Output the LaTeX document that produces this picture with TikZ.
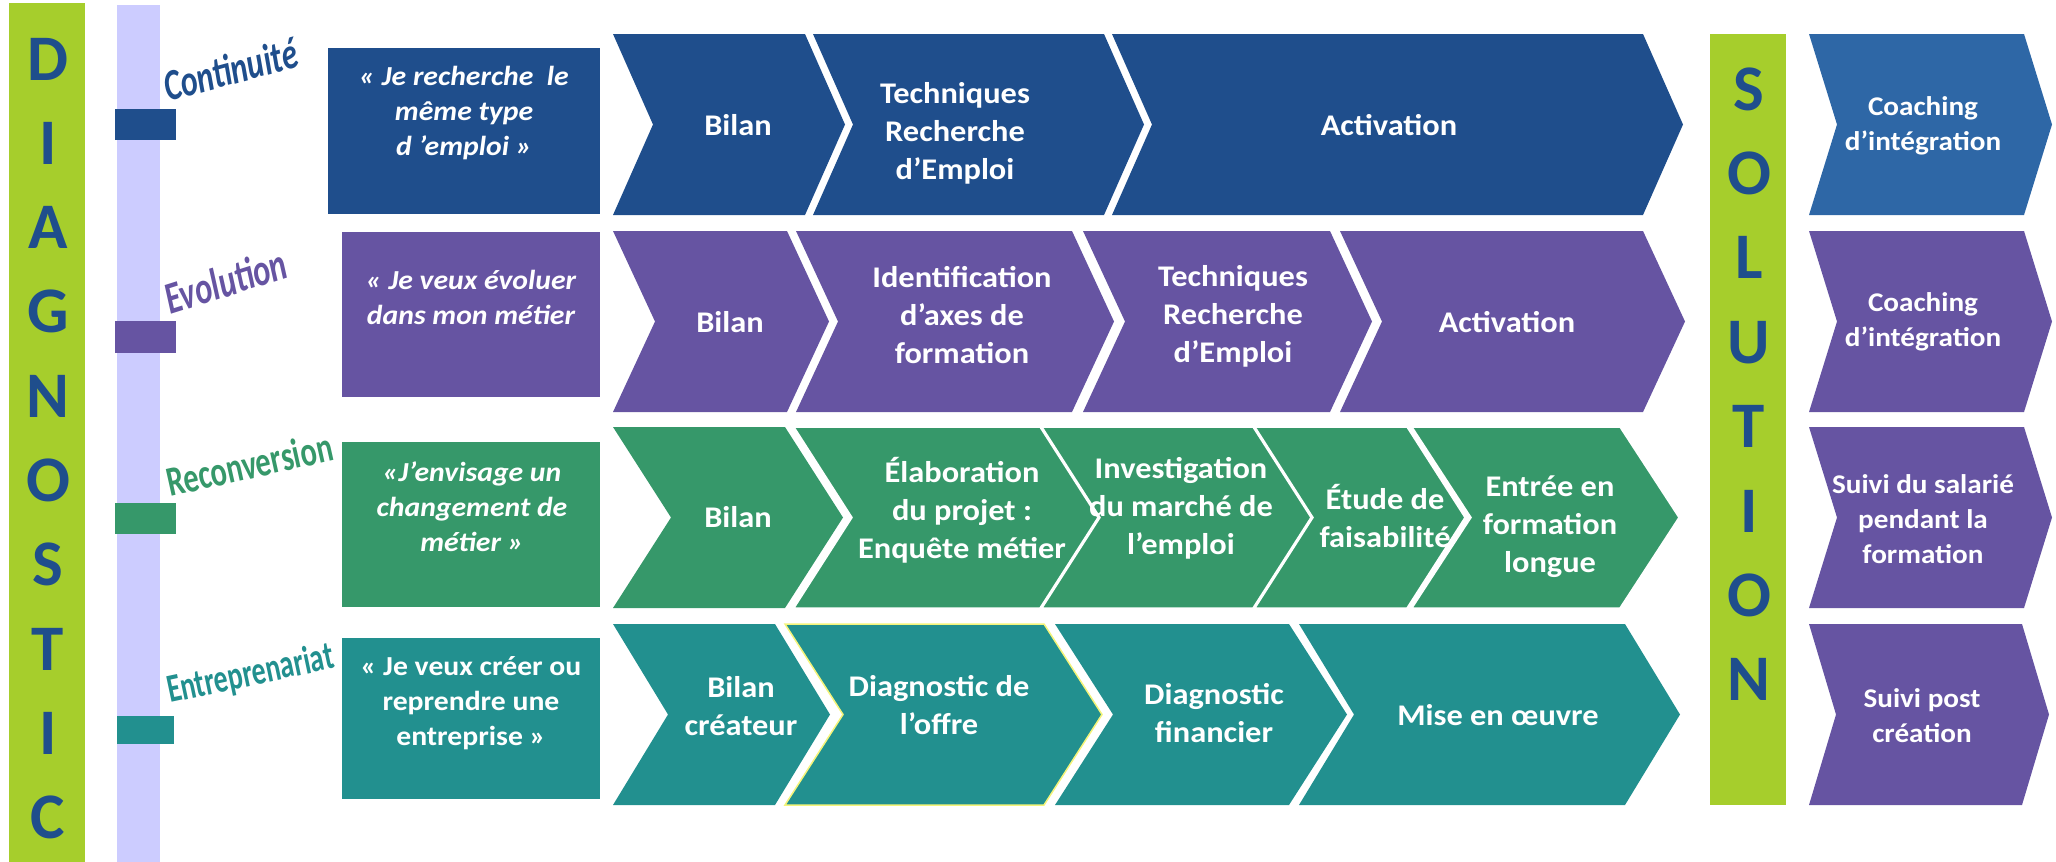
\documentclass[tikz,border=0pt]{standalone}
\usepackage{fontspec}
\setmainfont{Carlito}[FakeStretch=1.08]
\newfontfamily\labfont{Carlito}
\definecolor{cblue}{HTML}{1F4E8C}
\definecolor{cblueL}{HTML}{2E67A6}
\definecolor{cpurple}{HTML}{6654A2}
\definecolor{cgreen}{HTML}{36986A}
\definecolor{cteal}{HTML}{22908F}
\definecolor{clime}{HTML}{A6CE2C}
\definecolor{clav}{HTML}{CCCCFF}
\definecolor{cyell}{HTML}{F4F47A}
\newcommand\mychev[6]{\path[#1] (#2,#4) -- (#3,#4) -- ({#3+#6},{(#4+#5)/2}) -- (#3,#5) -- (#2,#5) -- ({#2+#6},{(#4+#5)/2}) -- cycle;}
\tikzset{
  ctext/.style={text=white, font=\bfseries\fontsize{30}{38}\selectfont, align=center, inner sep=0pt},
  qtext/.style={text=white, font=\bfseries\itshape\fontsize{27.5}{35}\selectfont, align=center, inner sep=0pt},
  qtextup/.style={text=white, font=\bfseries\fontsize{27.5}{35}\selectfont, align=center, inner sep=0pt},
  stext/.style={text=white, font=\bfseries\fontsize{27}{35}\selectfont, align=center, inner sep=0pt},
  bigletter/.style={text=cblue, font=\labfont\bfseries\fontsize{65}{65}\selectfont, inner sep=0pt},
  rowlabel/.style={anchor=base west, inner sep=0pt},
}
\begin{document}
\begin{tikzpicture}[x=1pt,y=-1pt]
\useasboundingbox (0,0) rectangle (2056,862);
% left bars
\fill[clime] (9,3) rectangle (85,862);
\fill[clav] (117,5) rectangle (160,862);
\fill[cblue] (115,109) rectangle (176,140);
\fill[cpurple] (115,321) rectangle (176,353);
\fill[cgreen] (115,503) rectangle (176,534);
\fill[cteal] (117,716) rectangle (174,744);
\foreach \L [count=\i from 0] in {D,I,A,G,N,O,S,T,I,C}
  \node[bigletter] (diag\i) at (48,{59+84.3*\i}) {\L};
% solution bar
\fill[clime] (1710,34) rectangle (1786,805);
\foreach \L [count=\i from 0] in {S,O,L,U,T,I,O,N}
  \node[bigletter] (sol\i) at (1749,{89+84.4*\i}) {\L};
% row labels
\node[rowlabel, rotate=15, text=cblue, font=\labfont\bfseries\itshape\fontsize{44}{44}\selectfont] (lab1) at (168,102) {\resizebox{137pt}{\height}{Continuité}};
\node[rowlabel, rotate=17.6, text=cpurple, font=\labfont\bfseries\itshape\fontsize{45}{45}\selectfont] (lab2) at (170,315) {\resizebox{126pt}{\height}{Evolution}};
\node[rowlabel, rotate=12.6, text=cgreen, font=\labfont\bfseries\fontsize{42}{42}\selectfont] (lab3) at (170,497) {\resizebox{169pt}{\height}{Reconversion}};
\node[rowlabel, rotate=12, text=cteal, font=\labfont\bfseries\fontsize{40}{40}\selectfont] (lab4) at (170,703) {\resizebox{169pt}{\height}{Entreprenariat}};
% quote boxes
\fill[cblue] (328,48) rectangle (600,214);
\fill[cpurple] (342,232) rectangle (600,397);
\fill[cgreen] (342,442) rectangle (600,607);
\fill[cteal] (342,638) rectangle (600,799);
\node[qtext] (q1) at (464,113) {« Je recherche\ \ le\\même type\\d ’emploi »};
\node[qtext] (q2) at (471,297) {« Je veux évoluer\\dans mon métier};
\node[qtext] (q3) at (472,507) {«J’envisage un\\changement de\\métier »};
\node[qtextup] (q4) at (471,703) {« Je veux créer ou\\reprendre une\\entreprise »};
% row 1
\mychev{fill=cblue}{613}{805}{34}{215}{40}
\mychev{fill=cblue}{813}{1104}{34}{215}{40}
\mychev{fill=cblue}{1112}{1643}{34}{215}{40}
\node[ctext] (r1a) at (738,125) {Bilan};
\node[ctext] (r1b) at (955,133) {Techniques\\Recherche\\d’Emploi};
\node[ctext] (r1c) at (1389,125) {Activation};
% row 2
\mychev{fill=cpurple}{613}{787}{231}{412}{42}
\mychev{fill=cpurple}{796}{1072}{231}{412}{42}
\mychev{fill=cpurple}{1083}{1330}{231}{412}{42}
\mychev{fill=cpurple}{1340}{1643}{231}{412}{42}
\node[ctext] (r2a) at (730,322) {Bilan};
\node[ctext] (r2b) at (962,315) {Identification\\d'axes de\\formation};
\node[ctext] (r2c) at (1233,316) {Techniques\\Recherche\\d’Emploi};
\node[ctext] (r2d) at (1507,322) {Activation};
% row 3
\mychev{fill=cgreen}{613}{785}{427}{608}{58}
\mychev{fill=cgreen, draw=white, line width=1.5}{794}{1040}{427}{608}{58}
\mychev{fill=cgreen, draw=white, line width=1.5}{1042}{1253}{427}{608}{58}
\mychev{fill=cgreen, draw=white, line width=1.5}{1255}{1407}{427}{608}{58}
\mychev{fill=cgreen, draw=white, line width=1.5}{1412}{1620}{427}{608}{59}
\node[ctext] (r3a) at (738,517) {Bilan};
\node[ctext] (r3b) at (962,510) {Élaboration\\du projet :\\Enquête métier};
\node[ctext] (r3c) at (1181,508) {Investigation\\du marché de\\l’emploi};
\node[ctext] (r3d) at (1385,516) {Étude de\\faisabilité};
\node[ctext] (r3e) at (1550,527) {Entrée en\\formation\\longue};
% row 4
\mychev{fill=cteal}{613}{775}{624}{805}{55}
\mychev{fill=cteal, draw=cyell, line width=1.5}{785}{1044}{624}{805}{58}
\mychev{fill=cteal}{1055}{1289}{624}{805}{58}
\mychev{fill=cteal}{1299}{1625}{624}{805}{55}
\node[ctext] (r4a) at (741,706) {Bilan\\créateur};
\node[ctext] (r4b) at (939,705) {Diagnostic de\\l’offre};
\node[ctext] (r4c) at (1214,713) {Diagnostic\\financier};
\node[ctext] (r4d) at (1498,715) {Mise en œuvre};
% solution column
\mychev{fill=cblueL}{1809}{2024}{34}{215}{28}
\mychev{fill=cpurple}{1809}{2024}{231}{412}{28}
\mychev{fill=cpurple}{1809}{2024}{427}{608}{28}
\mychev{fill=cpurple}{1809}{2022}{624}{805}{27}
\node[stext] (s1) at (1923,126) {Coaching\\d’intégration};
\node[stext] (s2) at (1923,322) {Coaching\\d’intégration};
\node[stext] (s3) at (1923,519) {Suivi du salarié\\pendant la\\formation};
\node[stext] (s4) at (1922,716) {Suivi post\\création};
\end{tikzpicture}
\end{document}
